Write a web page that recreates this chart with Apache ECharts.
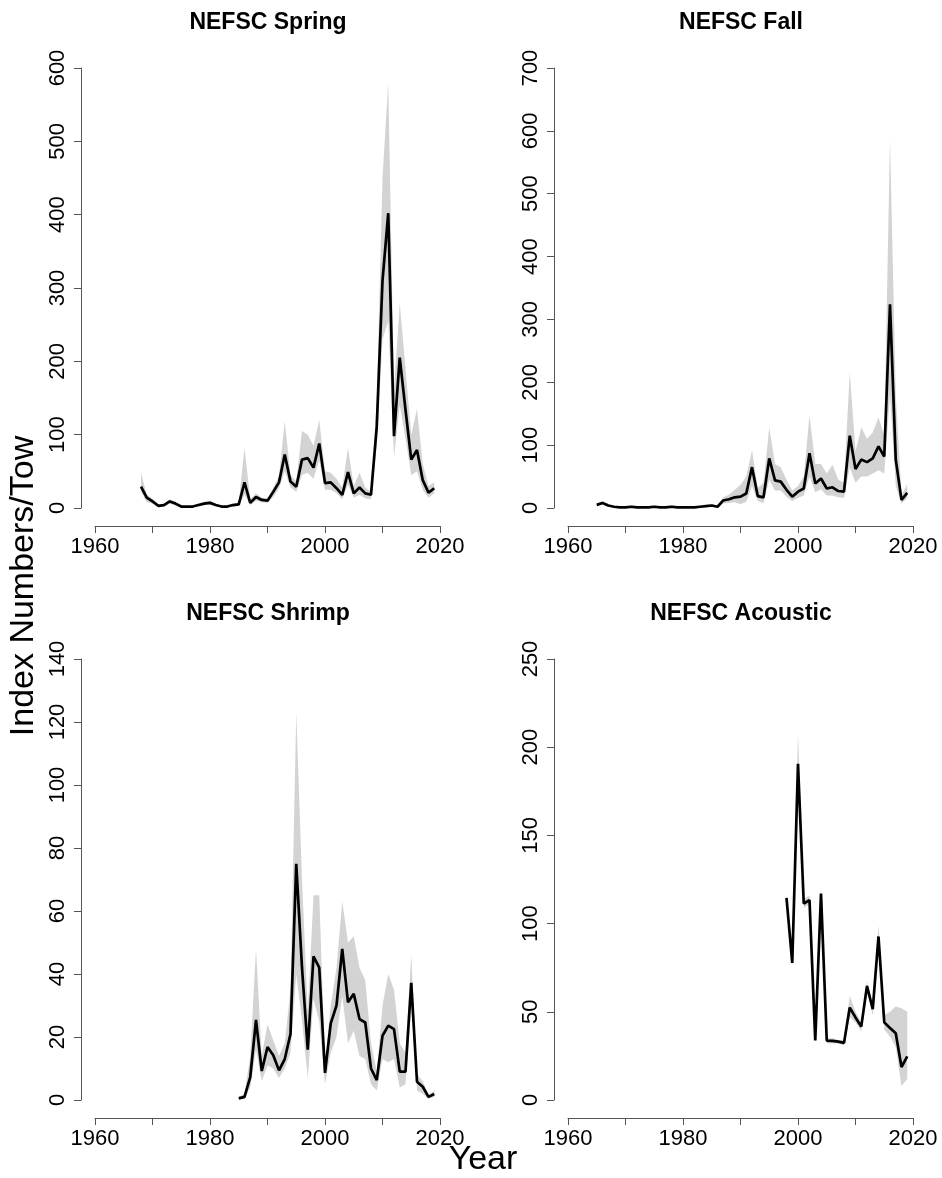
<!DOCTYPE html>
<html><head><meta charset="utf-8">
<script src="https://cdn.jsdelivr.net/npm/echarts@6/dist/echarts.min.js"></script>
<style>html,body{margin:0;padding:0;background:#fff}#c{width:942px;height:1178px}</style>
</head><body><div id="c"></div>
<script>
function yearRange(a, b) { const r = []; for (let y = a; y <= b; y++) r.push(y); return r; }

// NEFSC Spring (1968-2019)
const springYears = yearRange(1968, 2019);
const springIndex = [29,14,9,3,4,9,6,2,2,2, 4,6,7,4,2,2,4,5,35,7, 15,11,10,22,35,73,36,29,66,68, 55,88,34,35,27,18,49,20,28,20, 18,111,310,402,98,205,134,66,79,38, 21,27];
const springLower = [22,8,6,1,2,6,3,1,1,1, 2,4,5,2,1,1,2,3,18,4, 10,8,7,15,27,50,28,22,45,48, 40,65,25,25,20,12,32,14,18,13, 12,85,230,255,70,140,95,45,50,25, 14,20];
const springUpper = [48,18,13,5,6,12,9,3,3,3, 6,9,10,6,3,3,6,8,82,12, 20,14,13,28,44,118,45,36,105,100, 85,120,50,48,40,28,82,30,48,28, 22,145,450,580,160,280,190,100,135,60, 30,35];

// NEFSC Fall (1965-2019)
const fallYears = yearRange(1965, 2019);
const fallIndex = [5,8,4,2,1,1,2,1,1,1, 2,1,1,2,1,1,1,1,2,3, 4,2,12,14,17,18,23,65,19,17, 79,44,42,29,18,26,31,87,39,47, 31,33,27,26,115,62,77,73,79,98, 82,324,77,13,24];
const fallLower = [3,6,2,1,0.5,0.5,1,0.5,0.5,0.5, 1,0.5,0.5,1,0.5,0.5,0.5,0.5,1,1.5, 2,1,7,8,9,6,10,35,11,8, 45,28,28,18,11,16,20,50,25,30, 20,20,17,16,65,40,50,50,55,60, 55,180,35,7,16];
const fallUpper = [7,11,6,3,3,3,4,3,3,3, 4,3,3,4,3,3,3,3,4,5, 6,4,17,21,29,37,50,92,32,40, 128,70,65,45,28,35,50,147,70,70, 55,69,45,40,216,90,128,110,120,144, 115,588,180,20,38];

// NEFSC Shrimp (1985-2019)
const shrimpYears = yearRange(1985, 2019);
const shrimpIndex = [0.5,1,7.3,25.4,9.2,16.8,14.2,9.4,13,21, 75,42,16,45.6,42,8.6,24.3,30,48,31, 33.7,25.7,24.6,10,6.3,20.4,23.6,22.5,9,9, 37.2,5.8,4.2,1,1.9];
const shrimpLower = [0.2,0.5,4,16,6,11,10,7,10,15, 40,25,7,32,25,5,15,20,33,18, 22,14,13,5,3,13,12,13,4,5, 30,3,2,0.3,1];
const shrimpUpper = [1,2,14,48,14,24,19,14,18,35, 123,70,28,65,65,12,30,42,63,50, 52,42,38,18,9,30,40,35,18,15, 46,8,6,1.5,3];

// NEFSC Acoustic (1998-2019)
const acousticYears = yearRange(1998, 2019);
const acousticIndex = [114.6,77.7,190.6,111.4,113.3,33.7,117,33.7,33.5,33.1, 32.4,52.4,46.8,41.6,64.6,51.5,92.7,44,40.8,37.8, 18.7,24.7];
const acousticLower = [113,76,178,109,111,32,114,32,32,32, 31,47,44,39,62,48,86,40,36,30, 8,12];
const acousticUpper = [116,79,208,114,116,35,120,35,35,34, 34,59,50,44,67,54,99,48,50,53, 52,50];

// axis ticks
const xTicks = { min: 1960, max: 2020, step: 10 };
const yTickMax = [600, 700, 140, 250];
const yTickStep = [100, 100, 20, 50];
const panelTitles = ['NEFSC Spring', 'NEFSC Fall', 'NEFSC Shrimp', 'NEFSC Acoustic'];

const panels = [
  { years: springYears, val: springIndex, lo: springLower, hi: springUpper, left: 95, top: 68, height: 440 },
  { years: fallYears, val: fallIndex, lo: fallLower, hi: fallUpper, left: 568, top: 68, height: 440 },
  { years: shrimpYears, val: shrimpIndex, lo: shrimpLower, hi: shrimpUpper, left: 95, top: 659, height: 441 },
  { years: acousticYears, val: acousticIndex, lo: acousticLower, hi: acousticUpper, left: 568, top: 659, height: 441 }
];

const FONT = 'Liberation Sans';
const axisColor = '#555';
const grids = [], xAxes = [], yAxes = [], series = [], titles = [];

panels.forEach((p, i) => {
  grids.push({ left: p.left, top: p.top, width: 345, height: p.height, containLabel: false });
  xAxes.push({
    type: 'value', gridIndex: i, min: xTicks.min, max: xTicks.max, interval: xTicks.step, offset: 18,
    axisLine: { show: true, onZero: false, lineStyle: { color: axisColor, width: 1 } },
    axisTick: { show: true, length: 7, lineStyle: { color: axisColor, width: 1 } },
    axisLabel: { fontSize: 22, color: '#000', fontFamily: FONT, margin: 10,
      formatter: v => (v % 20 === 0 ? String(v) : '') },
    splitLine: { show: false }
  });
  yAxes.push({
    type: 'value', gridIndex: i, min: 0, max: yTickMax[i], interval: yTickStep[i], offset: 14,
    axisLine: { show: true, onZero: false, lineStyle: { color: axisColor, width: 1 } },
    axisTick: { show: true, length: 7, lineStyle: { color: axisColor, width: 1 } },
    axisLabel: { fontSize: 22, color: '#000', fontFamily: FONT, rotate: 90, margin: 12 },
    splitLine: { show: false }
  });
  series.push({
    type: 'custom', xAxisIndex: i, yAxisIndex: i, silent: true, z: 1,
    data: p.years.map((y, k) => [y, p.lo[k], p.hi[k]]),
    encode: { x: 0, y: [1, 2] },
    renderItem: function (params, api) {
      if (params.dataIndex !== 0) return null;
      const pts = [];
      for (let k = 0; k < p.years.length; k++) pts.push(api.coord([p.years[k], p.hi[k]]));
      for (let k = p.years.length - 1; k >= 0; k--) pts.push(api.coord([p.years[k], p.lo[k]]));
      return { type: 'polygon', shape: { points: pts }, style: { fill: '#d3d3d3' } };
    }
  });
  series.push({
    type: 'line', xAxisIndex: i, yAxisIndex: i, z: 3,
    data: p.years.map((y, k) => [y, p.val[k]]),
    showSymbol: false, symbol: 'none',
    lineStyle: { color: '#000', width: 2.7 }
  });
  titles.push({
    text: panelTitles[i], left: p.left - 14 + 187, top: i < 2 ? 11 : 602, textAlign: 'center', padding: 0,
    textStyle: { fontSize: 23, fontWeight: 'bold', color: '#000', fontFamily: FONT }
  });
});

const chart = echarts.init(document.getElementById('c'), null, { renderer: 'canvas' });
chart.setOption({
  animation: false,
  backgroundColor: '#fff',
  title: titles,
  grid: grids, xAxis: xAxes, yAxis: yAxes, series: series,
  graphic: [
    { type: 'text', x: 24, y: 586, rotation: Math.PI / 2,
      style: { text: 'Index Numbers/Tow', fontSize: 34, fontFamily: FONT, fill: '#000', textAlign: 'center', textVerticalAlign: 'middle' } },
    { type: 'text', x: 483, y: 1160,
      style: { text: 'Year', fontSize: 34, fontFamily: FONT, fill: '#000', textAlign: 'center', textVerticalAlign: 'middle' } }
  ]
});
</script></body></html>
